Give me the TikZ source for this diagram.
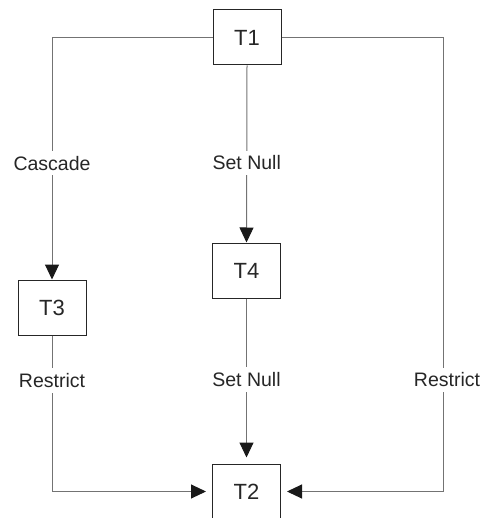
\documentclass[tikz,border=0pt]{standalone}
\usepackage{fontspec}
\setmainfont{Liberation Sans}
\usetikzlibrary{arrows.meta}
\tikzset{tbl/.style={draw=black!85,line width=1pt,minimum width=68pt,minimum height=55pt,
                     inner sep=0pt,font=\fontsize{22}{26}\selectfont,text=black!85},
         lbl/.style={fill=white,inner sep=5pt,font=\fontsize{19.5}{23}\selectfont,text=black!85},
         link/.style={draw=black!55,line width=1pt,
                      -{Triangle[length=15pt,width=14pt,color=black!90]}}}
\begin{document}
\begin{tikzpicture}[x=1pt,y=-1pt]
\useasboundingbox (0,0) rectangle (482,518);
\node[tbl] (T1) at (247,37.5)  {T1};
\node[tbl] (T3) at (52,307.5)  {T3};
\node[tbl] (T4) at (246.5,270.5) {T4};
\node[tbl] (T2) at (246.5,491.5) {T2};
\coordinate (rt) at (443,37.5);
% links
\draw[link] (T1.west) -| node[lbl,pos=.76] {Cascade} (T3.north);
\draw[link] (T1.south) -- node[lbl,pos=.55] {Set Null} (T4.north);
\draw[link,shorten >=6pt] (T4.south) -- node[lbl,pos=.49] {Set Null} (T2.north);
\draw[link,shorten >=6pt] (T3.south) |- node[lbl,pos=.144] {Restrict} (T2.west);
\draw[link,shorten >=6pt] (T1.east) -- (rt) |- node[lbl,pos=.377,xshift=4pt] {Restrict} (T2.east);
\end{tikzpicture}
\end{document}
